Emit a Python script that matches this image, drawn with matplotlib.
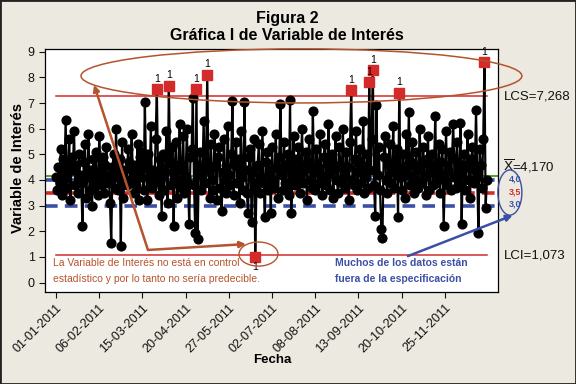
import numpy as np
import matplotlib.pyplot as plt
from matplotlib.patches import Ellipse, Rectangle

plt.rcParams['font.family'] = ['Liberation Sans', 'DejaVu Sans']

# daily values of the variable (index = observation number)
valores = [
    4.1, 3.6, 4.5, 3.9, 5.2, 3.4, 4.8, 4.0, 6.35, 3.7, 4.3, 5.6, 3.2, 4.9, 4.4, 5.9, 3.8, 4.6, 3.5, 5.0,
    4.2, 3.9, 2.2, 4.7, 5.4, 3.3, 4.1, 5.8, 3.6, 4.4, 3.0, 4.8, 3.7, 5.1, 4.0, 3.4, 5.7, 4.3, 3.8, 4.9,
    3.5, 4.6, 5.3, 3.9, 4.2, 3.1, 1.55, 4.5, 5.0, 3.7, 6.0, 4.1, 3.6, 4.8, 1.42, 5.5, 3.3, 4.4, 4.0, 3.8,
    5.2, 4.7, 3.9, 5.8, 4.3, 3.5, 4.6, 3.8, 5.4, 3.2, 4.9, 4.1, 5.1, 3.6, 7.05, 4.5, 3.2, 5.0, 4.0, 6.1,
    3.7, 4.4, 3.9, 5.6, 7.55, 4.2, 3.4, 4.8, 2.6, 5.0, 3.6, 4.3, 5.9, 3.1, 7.67, 4.7, 3.8, 5.3, 2.2, 4.6,
    5.5, 3.3, 4.0, 6.2, 4.4, 3.7, 5.7, 3.5, 4.1, 6.0, 3.9, 2.3, 4.9, 5.2, 7.2, 3.8, 1.95, 7.54, 1.7, 4.5,
    5.1, 3.6, 4.2, 6.3, 3.9, 4.7, 8.1, 4.4, 3.3, 5.4, 4.0, 3.6, 5.8, 4.6, 3.2, 4.9, 5.3, 3.7, 2.8, 4.3,
    5.6, 4.0, 3.5, 6.1, 4.2, 3.8, 5.0, 7.1, 3.4, 4.6, 5.5, 3.9, 4.8, 3.1, 5.9, 4.1, 3.6, 7.05, 4.4, 3.5,
    2.7, 4.9, 5.2, 2.35, 4.3, 5.6, 0.98, 3.8, 4.6, 5.4, 3.5, 4.1, 5.9, 3.9, 2.55, 4.7, 5.1, 3.6, 4.4, 2.7,
    5.3, 4.0, 3.7, 5.8, 4.5, 3.3, 4.9, 6.95, 4.2, 3.6, 5.5, 3.9, 4.6, 5.0, 3.4, 7.12, 2.7, 4.3, 5.7, 3.8,
    4.8, 4.1, 5.3, 3.5, 4.6, 6.0, 3.9, 4.4, 5.1, 3.2, 4.7, 5.6, 4.0, 3.7, 6.7, 4.3, 3.6, 5.2, 4.5, 3.9,
    5.8, 4.1, 3.4, 4.9, 5.4, 3.8, 4.2, 6.2, 3.6, 4.7, 5.0, 3.3, 4.4, 5.7, 4.0, 3.5, 5.3, 4.6, 3.9, 6.0,
    4.2, 3.7, 5.1, 4.5, 3.2, 5.5, 7.51, 4.0, 3.8, 4.8, 5.9, 3.6, 4.3, 5.2, 3.9, 4.6, 6.3, 3.5, 4.1, 5.0,
    3.7, 7.81, 4.4, 5.6, 8.29, 3.8, 2.6, 6.93, 4.2, 5.3, 3.6, 2.1, 1.72, 4.9, 5.7, 4.0, 3.5, 4.6, 5.4, 3.9,
    4.3, 6.1, 3.7, 4.8, 5.2, 2.55, 7.4, 4.1, 3.6, 5.0, 4.5, 3.3, 5.8, 4.2, 6.67, 3.8, 4.7, 5.5, 3.5, 4.0,
    5.1, 4.4, 3.7, 6.0, 4.6, 3.9, 5.3, 4.1, 3.4, 4.8, 5.7, 3.6, 4.3, 5.0, 3.8, 4.5, 6.5, 3.9, 4.2, 5.4,
    3.5, 4.7, 5.2, 2.2, 4.0, 5.9, 3.8, 4.4, 5.1, 3.6, 4.9, 6.2, 4.1, 3.7, 5.5, 4.3, 3.9, 6.24, 2.28, 4.6,
    5.0, 3.6, 4.5, 5.8, 4.0, 3.3, 4.8, 5.3, 3.9, 4.4, 6.73, 4.1, 1.92, 5.2, 4.6, 3.7, 5.6, 8.6, 2.9, 4.0,
]

lcs = 7.268
media = 4.170
lci = 1.073
espec = [4.0, 3.5, 3.0]
espec_txt = ['4,0', '3,5', '3,0']
espec_col = ['#3C4FA6', '#D42A2A', '#3C4FA6']

tick_pos = [1, 37, 73, 109, 145, 181, 217, 253, 289, 325]
tick_lbl = ['01-01-2011', '06-02-2011', '15-03-2011', '20-04-2011', '27-05-2011',
            '02-07-2011', '08-08-2011', '13-09-2011', '20-10-2011', '25-11-2011']

nota1 = ['La Variable de Interés no está en control',
         'estadístico y por lo tanto no sería predecible.']
nota2 = ['Muchos de los datos están', 'fuera de la especificación']

y = np.array(valores)
x = np.arange(1, len(y) + 1)
fuera = (y > lcs) | (y < lci)

bg = '#ECE9E0'
brown = '#B5532C'
blue = '#3C4FA6'
red = '#D42A2A'

fig = plt.figure(figsize=(5.76, 3.84), dpi=100, facecolor=bg)
ax = fig.add_axes([45/576, 1-292/384, 453/576, 243/384])
ax.set_facecolor('white')

# spec lines and control limits
for v, c in zip(espec, espec_col):
    ax.axhline(v, color=c, lw=2.6, ls=(0, (3.5, 2)), zorder=1)
ax.axhline(media, color='#5CA030', lw=1.5, zorder=1)
ax.plot([1, len(y)], [lcs, lcs], color=red, lw=1.1, zorder=1)
ax.plot([1, len(y)], [lci, lci], color=red, lw=1.1, zorder=1)

ax.plot(x, y, color='black', lw=1.6, marker='o', ms=6.3, mfc='black', mec='black', zorder=3)
ax.plot(x[fuera], y[fuera], ls='none', marker='s', ms=6.5, mfc=red, mec=red, zorder=4)
for xi, yi in zip(x[fuera], y[fuera]):
    off = 7.5 if yi > lcs else -7.0
    ax.annotate('1', (xi, yi), xytext=(0, off), textcoords='offset points',
                ha='center', va='center', fontsize=7.5, zorder=5)

ax.set_xlim(-8.2, 369.3)
ax.set_ylim(-0.37, 9.11)
ax.set_yticks(range(10))
ax.set_xticks(tick_pos)
ax.set_xticklabels(tick_lbl, rotation=45, ha='right', rotation_mode='anchor')
ax.tick_params(labelsize=9, length=4, width=0.8, colors='#111111')
ax.tick_params(axis='x', pad=3)
for s in ax.spines.values():
    s.set_linewidth(0.9)

# limit labels
tr = ax.get_yaxis_transform()
ax.text(1.012, lcs, 'LCS=7,268', transform=tr, va='center', ha='left', fontsize=9.5, color='#111111')
ax.text(1.010, 4.55, r'$\overline{\mathrm{X}}$=4,170', transform=tr, va='center', ha='left', fontsize=9.5, color='#111111')
ax.text(1.012, lci, 'LCI=1,073', transform=tr, va='center', ha='left', fontsize=9.5, color='#111111')
for t, c, yy in zip(espec_txt, espec_col, [4.02, 3.52, 3.06]):
    ax.text(1.023, yy, t, transform=tr, va='center', ha='left', fontsize=6.5, color=c, fontweight='bold')

# annotations
ax.add_patch(Ellipse((205.5, 8.06), 367.4, 2.11, fill=False, ec=brown, lw=1.1, clip_on=False, zorder=6))
ax.add_patch(Ellipse((169.7, 1.11), 32.5, 0.94, fill=False, ec=brown, lw=1.0, clip_on=False, zorder=6))
ax.add_patch(Ellipse((379.2, 3.51), 20, 1.76, fill=False, ec=blue, lw=1.0, clip_on=False, zorder=6))

ap = dict(arrowstyle='-|>', color=brown, lw=1.8, mutation_scale=9, shrinkA=0, shrinkB=0)
ax.annotate('', xy=(32.7, 7.71), xytext=(77.6, 1.27), arrowprops=ap, zorder=6)
ax.annotate('', xy=(159.3, 1.50), xytext=(77.6, 1.27), arrowprops=ap, zorder=6)
ax.annotate('', xy=(381.5, 2.62), xytext=(294.2, 1.03), annotation_clip=False,
            arrowprops=dict(arrowstyle='-|>', color=blue, lw=1.8, mutation_scale=9, shrinkA=0, shrinkB=0), zorder=6)

for t, yy in zip(nota1, [0.76, 0.15]):
    ax.text(-1.5, yy, t, fontsize=7.5, color=brown, va='center', ha='left',
            family=['Liberation Sans Narrow', 'Liberation Sans'], zorder=6)
for t, yy in zip(nota2, [0.76, 0.15]):
    ax.text(233.4, yy, t, fontsize=7.5, color=blue, va='center', ha='left', fontweight='bold',
            family=['Liberation Sans Narrow', 'Liberation Sans'], zorder=6)

fig.text(287/576, 1-18/384, 'Figura 2', ha='center', va='center', fontsize=11.5, fontweight='bold')
fig.text(287/576, 1-36/384, 'Gráfica I de Variable de Interés', ha='center', va='center', fontsize=11.5, fontweight='bold')
fig.text(272/576, 1-360/384, 'Fecha', ha='center', va='center', fontsize=9.5, fontweight='bold')
fig.text(18/576, 1-168/384, 'Variable de Interés', ha='center', va='center', rotation=90, fontsize=10.5, fontweight='bold')

fig.patches.append(Rectangle((0, 0), 1, 1, transform=fig.transFigure, fill=False, ec='#222222', lw=2))

fig.savefig('out.png', dpi=100, facecolor=bg)
